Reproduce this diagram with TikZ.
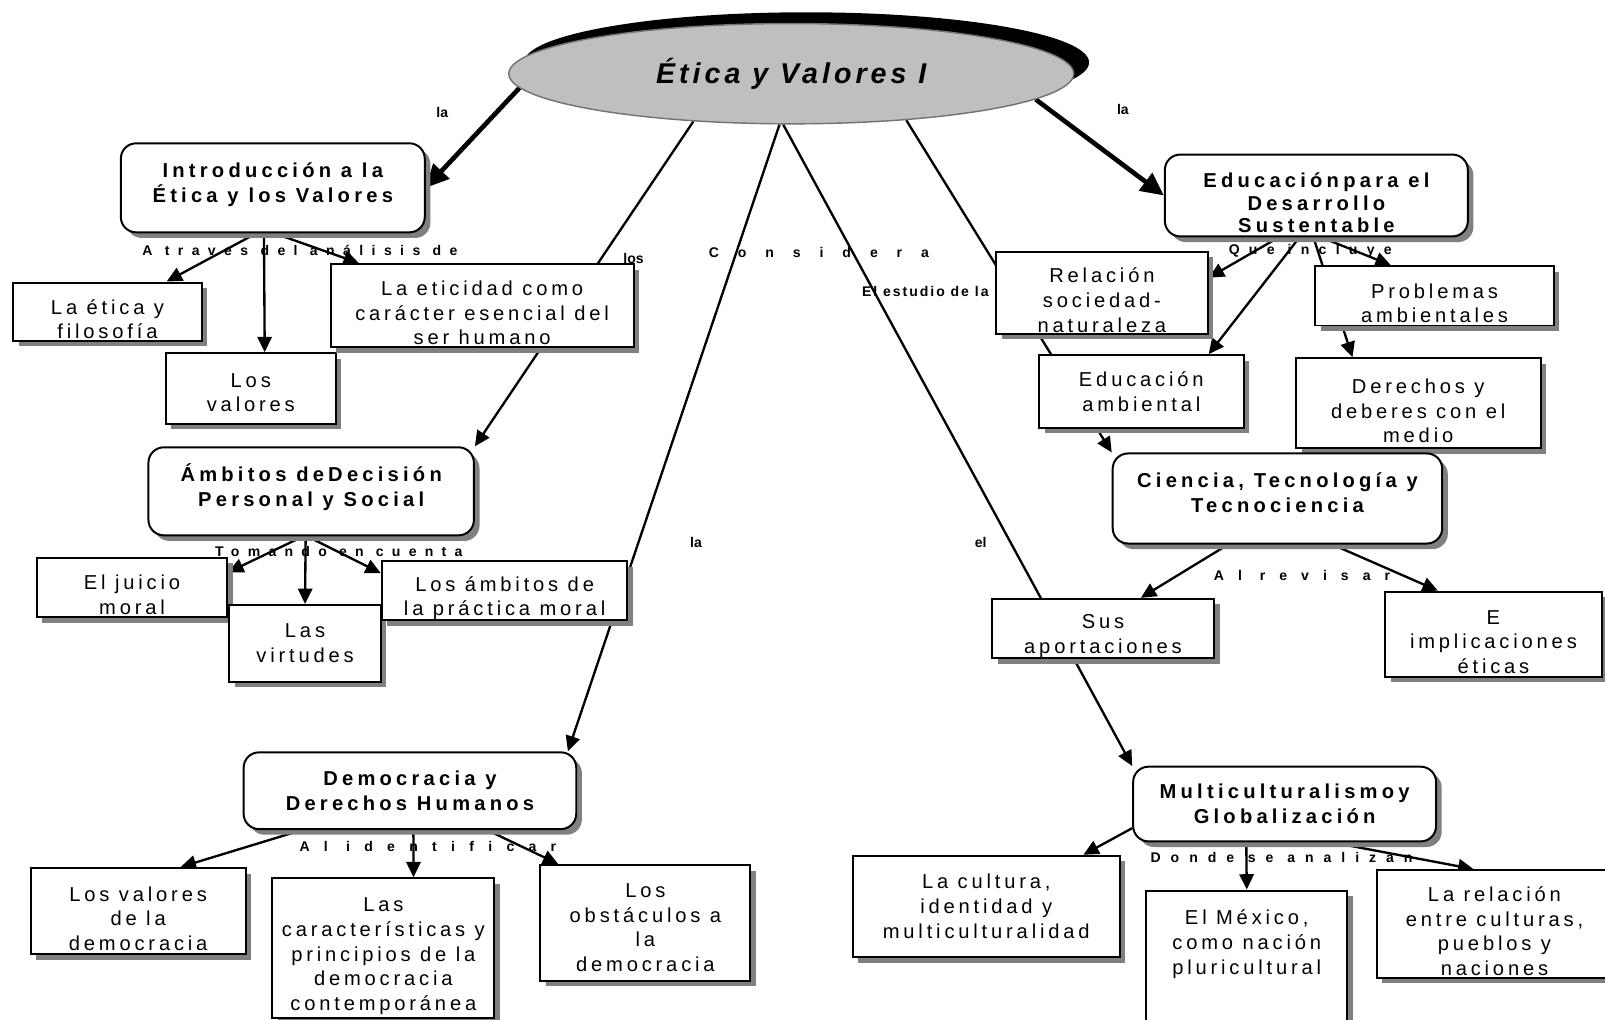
\documentclass[tikz,border=0pt]{standalone}
\usepackage{fontspec}
\setmainfont{Liberation Sans}
\usetikzlibrary{shapes.geometric,arrows.meta,shadows,backgrounds}

% spaced out letters, as in the map
\newcommand{\spread}[2]{{\addfontfeatures{LetterSpace=#1}#2}}

\tikzset{
  sombra/.style={drop shadow={shadow xshift=0.11cm, shadow yshift=-0.11cm, fill=black!50, opacity=1}},
  concepto/.style={draw, line width=1.1pt, fill=white, rounded corners=0.3cm, align=center,
    inner sep=0pt, sombra, font=\fontsize{11.2}{13.7}\selectfont\bfseries\addfontfeatures{LetterSpace=21}},
  caja/.style={draw, line width=1.1pt, fill=white, align=center, inner sep=0pt, sombra,
    font=\fontsize{11.2}{13.7}\selectfont\addfontfeatures{LetterSpace=19}},
  % text a bit lower (#1 = lines - 1) or a bit higher in its box
  baja/.style={execute at begin node={\rule{0pt}{\dimexpr#1\baselineskip+0.58cm\relax}}},
  sube/.style={execute at begin node={\rule[-#1]{0pt}{#1}}},
  enlace/.style={font=\fontsize{7.8}{9}\selectfont\bfseries, inner sep=1pt},
  flecha/.style={line width=1.3pt, -{Triangle[length=0.3cm,width=0.28cm]}},
  gruesa/.style={line width=2.6pt, -{Triangle[length=0.45cm,width=0.42cm]}}
}

\begin{document}
\begin{tikzpicture}[x=0.02cm, y=-0.02cm]
  \useasboundingbox (0,0) rectangle (1568,996);

  % Title
  \node[ellipse, draw=black!55, line width=0.8pt, fill=black!25, minimum width=11.04cm,
    minimum height=1.96cm, inner sep=0pt,
    drop shadow={shadow xshift=0.3cm, shadow yshift=0.22cm, fill=black, opacity=1},
    font=\fontsize{15.9}{18}\selectfont\bfseries\itshape] (titulo) at (773,72)
    {\spread{14}{Ética y Valores I}};

  % Left branch: introduccion
  \node[concepto, sube=0.2cm, minimum width=5.94cm, minimum height=1.74cm] (intro) at (266.5,183.5)
    {Introducción a la\\Ética y los Valores};
  \node[caja, baja=1, minimum width=3.68cm, minimum height=1.14cm] (etica) at (105,304.5) {La ética y\\filosofía};
  \node[caja, baja=0.71, minimum width=3.32cm, minimum height=1.38cm] (valores) at (245,379.5) {Los\\valores};
  \node[caja, baja=2, minimum width=5.92cm, minimum height=1.62cm] (eticidad) at (471,298.5)
    {La eticidad como\\carácter esencial del\\ser humano};

  % Left branch: ambitos
  \node[concepto, sube=0.24cm, minimum width=6.36cm, minimum height=1.72cm] (ambitos) at (304,480)
    {Ámbitos deDecisión\\Personal y Social};
  \node[caja, baja=1, minimum width=3.72cm, minimum height=1.16cm] (juicio) at (129,574) {El juicio\\moral};
  \node[caja, minimum width=2.96cm, minimum height=1.5cm] (virtudes) at (298,628.5) {Las\\virtudes};
  \node[caja, baja=1, minimum width=4.8cm, minimum height=1.16cm] (practica) at (493,577)
    {Los ámbitos de\\la práctica moral};

  % Left branch: democracia
  \node[concepto, minimum width=6.5cm, minimum height=1.5cm] (democracia) at (400.5,772.5)
    {Democracia y\\Derechos Humanos};
  \node[caja, baja=2, minimum width=4.2cm, minimum height=1.68cm] (valdem) at (135,890)
    {Los valores\\de la\\democracia};
  \node[caja, baja=4, minimum width=4.34cm, minimum height=2.74cm] (caract) at (374.5,926.5)
    {Las\\características y\\principios de la\\democracia\\contemporánea};
  \node[caja, baja=2.75, minimum width=4.1cm, minimum height=2.26cm] (obstac) at (630.5,901.5)
    {Los\\obstáculos a\\la\\democracia};

  % Right branch: desarrollo sustentable
  \node[concepto, baja=2, minimum width=5.92cm, minimum height=1.6cm,
    font=\fontsize{11.2}{12.6}\selectfont\bfseries\addfontfeatures{LetterSpace=21}] (eds) at (1286,191)
    {Educaciónpara el\\Desarrollo\\Sustentable};
  \node[caja, baja=2, minimum width=4.14cm, minimum height=1.6cm] (relacion) at (1076.5,286)
    {Relación\\sociedad-\\naturaleza};
  \node[caja, baja=1, minimum width=4.66cm, minimum height=1.16cm] (problemas) at (1401.5,289)
    {Problemas\\ambientales};
  \node[caja, minimum width=4cm, minimum height=1.42cm] (edamb) at (1115,382.5)
    {Educación\\ambiental};
  \node[caja, baja=2, minimum width=4.78cm, minimum height=1.76cm] (derechos) at (1385.5,394)
    {Derechos y\\deberes con el\\medio};

  % Right branch: ciencia
  \node[concepto, sube=0.24cm, minimum width=6.44cm, minimum height=1.76cm] (ciencia) at (1248,487)
    {Ciencia, Tecnología y\\Tecnociencia};
  \node[caja, baja=1, minimum width=4.34cm, minimum height=1.16cm] (sus) at (1077.5,614)
    {Sus\\aportaciones};
  \node[caja, baja=2, minimum width=4.24cm, minimum height=1.66cm] (implic) at (1459,619.5)
    {E\\implicaciones\\éticas};

  % Right branch: multiculturalismo
  \node[concepto, minimum width=5.92cm, minimum height=1.46cm] (multi) at (1255,785.5)
    {Multiculturalismoy\\Globalización};
  \node[caja, minimum width=5.22cm, minimum height=1.98cm] (cultura) at (963.5,885.5)
    {La cultura,\\identidad y\\multiculturalidad};
  \node[caja, minimum width=3.92cm, minimum height=2.6cm] (mexico) at (1218,935)
    {El México,\\como nación\\pluricultural\\[0.1cm] };
  \node[caja, baja=3, minimum width=4.6cm, minimum height=2.1cm] (relcult) at (1460,902.5)
    {La relación\\entre culturas,\\pueblos y\\naciones};

  % linking words
  \node[enlace] (lla1) at (432,110) {la};
  \node[enlace] (lla2) at (1097,107) {la};
  \node[enlace] (latraves) at (293,245) {\spread{60}{A traves del análisis de}};
  \node[enlace] (llos) at (619,253) {los};
  \node[enlace] (lconsidera) at (800,247) {\spread{135}{Considera}};
  \node[enlace] (lestudio) at (904,285) {\spread{14}{El estudio de la}};
  \node[enlace] (lincluye) at (1280,245) {\spread{66}{Que incluye}};
  \node[enlace] (ltomando) at (331,539) {\spread{59}{Tomando en cuenta}};
  \node[enlace] (lla3) at (680,530) {la};
  \node[enlace] (lel) at (958,530) {el};
  \node[enlace] (lrevisar) at (1272,562) {\spread{100}{Al revisar}};
  \node[enlace] (lidentificar) at (418,827) {\spread{102}{Al identificar}};
  \node[enlace] (ldonde) at (1252,838) {\spread{71}{Donde se analizan}};

  % connectors, behind the boxes
  \begin{pgfonlayer}{background}
    \fill[white] (0,0) rectangle (1568,996);
    \draw[gruesa] (titulo.183) -- (intro.east);
    \draw[gruesa] (titulo.-6) -- (eds.west);
    \draw[flecha] (titulo.-154) -- (ambitos.north east);
    \draw[flecha] (titulo.-103) -- (democracia.14);
    \draw[flecha] (titulo.-99) -- (multi.166);
    \draw[flecha] (titulo.-22) -- (ciencia.north west);
    % introduccion
    \draw[flecha] (intro.-110) -- (etica.27);
    \draw[flecha] (intro.-101) -- (valores.69);
    \draw[flecha] (intro.-88) -- (eticidad.161);
    % ambitos
    \draw[flecha] (ambitos.-100) -- (juicio.9);
    \draw[flecha] (ambitos.-97) -- (virtudes.north);
    \draw[flecha] (ambitos.-95) -- (practica.172);
    % democracia
    \draw[flecha] (democracia.-160) -- (valdem.46);
    \draw[flecha] (democracia.-85) -- (caract.67);
    \draw[flecha] (democracia.-27) -- (obstac.146);
    % desarrollo sustentable
    \draw[flecha] (eds.-132) -- (relacion.8);
    \draw[flecha] (eds.-112) -- (edamb.29);
    \draw[flecha] (eds.-94) -- (derechos.145);
    \draw[flecha] (eds.-83) -- (problemas.145);
    % ciencia
    \draw[flecha] (ciencia.-137) -- (sus.39);
    \draw[flecha] (ciencia.-40) -- (implic.142);
    % multiculturalismo
    \draw[flecha] (multi.-171) -- (cultura.28);
    \draw[flecha] (multi.-135) -- (mexico.north);
    \draw[flecha] (multi.-39) -- (relcult.111);
  \end{pgfonlayer}
\end{tikzpicture}
\end{document}
